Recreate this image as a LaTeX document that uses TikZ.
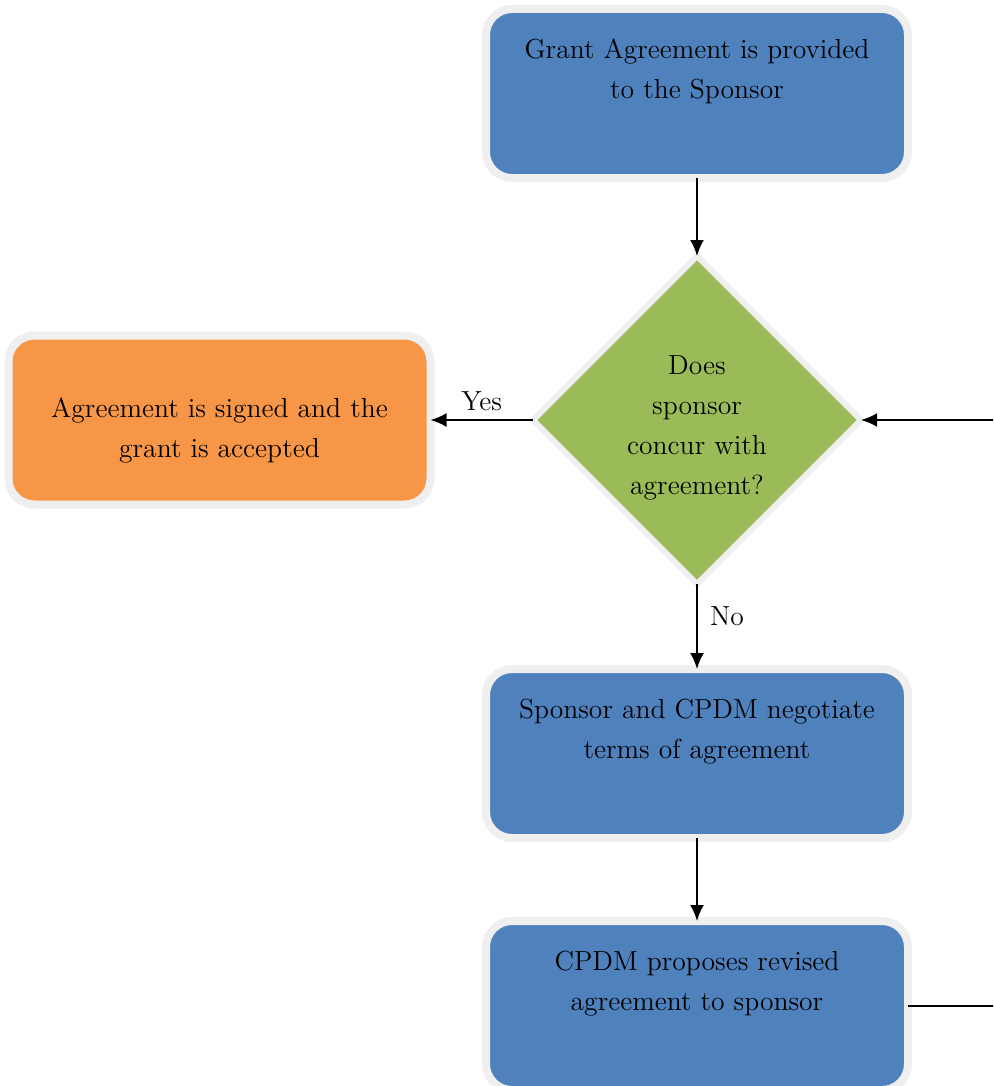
\documentclass[tikz,border=0pt]{standalone}
\usetikzlibrary{shapes.geometric,arrows.meta}
\definecolor{boxblue}{HTML}{4F81BD}
\definecolor{boxorange}{HTML}{F79646}
\definecolor{boxgreen}{HTML}{9BBB59}
\definecolor{rim}{HTML}{EFEFEF}
\begin{document}
\begin{tikzpicture}[x=.5pt, y=-.5pt,
    box/.style={rectangle, rounded corners=13pt, draw=rim, line width=4pt, minimum width=211pt, minimum height=84.5pt, inner sep=0pt, outer sep=0pt},
    choice/.style={diamond, draw=rim, line width=3pt, fill=boxgreen, minimum width=164pt, minimum height=164pt, inner sep=0pt, outer sep=0pt},
    txt/.style={align=center, font=\fontsize{13.8}{20}\selectfont, inner sep=0pt},
    flow/.style={-{Latex[length=8pt,width=7pt]}, line width=1pt}]
            \useasboundingbox (0,0) rectangle (993,1086);
            \clip (0,0) rectangle (993,1086);

            \node[box, fill=boxblue] (grant) at (697,93.5) {};
            \node[txt] (granttxt) at (697,71) {Grant Agreement is provided\\to the Sponsor};

            \node[choice] (concur) at (697,420) {};
            \node[txt] (concurtxt) at (697,428) {Does\\sponsor\\concur with\\agreement?};

            \node[box, fill=boxorange] (signed) at (219.5,420) {};
            \node[txt] (signedtxt) at (219.5,430) {Agreement is signed and the\\grant is accepted};

            \node[box, fill=boxblue] (negotiate) at (697,753.5) {};
            \node[txt] (negotiatetxt) at (697,731.5) {Sponsor and CPDM negotiate\\terms of agreement};

            \node[box, fill=boxblue] (revise) at (697,1005.5) {};
            \node[txt] (revisetxt) at (697,983.5) {CPDM proposes revised\\agreement to sponsor};

            \coordinate (loop) at (1010,1005.5);

            \draw[flow] (grant.south) -- (concur.north);
            \draw[flow] (concur.west) -- node[txt, above=4pt] (yes) {Yes} (signed.east);
            \draw[flow] (concur.south) -- node[txt, right=6pt, pos=.38] (no) {No} (negotiate.north);
            \draw[flow] (negotiate.south) -- (revise.north);
            \draw[flow] (revise.east) -- (loop) |- (concur.east);
        \end{tikzpicture}
\end{document}
